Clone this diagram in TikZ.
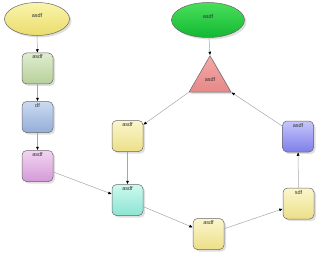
\documentclass[tikz,border=0pt]{standalone}
\usepackage{fontspec}
\setmainfont{Liberation Sans}
\usetikzlibrary{arrows.meta,shapes.geometric,shadows}
\definecolor{ylwA}{HTML}{FBF6CC}\definecolor{ylwB}{HTML}{ECDF88}
\definecolor{grnA}{HTML}{DFEDCF}\definecolor{grnB}{HTML}{B6D09A}
\definecolor{bluA}{HTML}{CBDAF0}\definecolor{bluB}{HTML}{94AED8}
\definecolor{pnkA}{HTML}{F2D4F2}\definecolor{pnkB}{HTML}{D49AD6}
\definecolor{cynA}{HTML}{CCF9EF}\definecolor{cynB}{HTML}{8CE4D2}
\definecolor{vioA}{HTML}{C6C6FB}\definecolor{vioB}{HTML}{7E7EEA}
\definecolor{redA}{HTML}{F6A8A8}\definecolor{redB}{HTML}{E68888}
\definecolor{ellA}{HTML}{FAF4AC}\definecolor{ellB}{HTML}{EADC6C}
\definecolor{egrA}{HTML}{4ADF5C}\definecolor{egrB}{HTML}{12B832}
\tikzset{
  shp/.style={draw=black!60,line width=0.5pt,shading angle=45,
    drop shadow={opacity=0.25,shadow xshift=2pt,shadow yshift=-2pt},
    text=black!80,font=\fontsize{5.5}{6.5}\selectfont},
  box/.style={shp,rounded corners=4.5pt,minimum width=31pt,minimum height=31pt,
    inner sep=1pt,text height=5pt,text depth=24pt,top color=#1A,bottom color=#1B},
  oval/.style={shp,ellipse,inner sep=0pt,text height=4.5pt,text depth=8pt,
    top color=#1A,bottom color=#1B},
  conn/.style={draw=black!35,line width=0.5pt,-{Latex[color=black,length=3.5pt,width=3pt]}}
}
\begin{document}
\begin{tikzpicture}[x=1pt,y=-1pt]
\useasboundingbox (0,0) rectangle (324,254);
% left column
\node[oval=ell,minimum width=65pt,minimum height=33pt] (e1) at (37,19) {asdf};
\node[box=grn] (g1) at (37.5,68.5) {asdf};
\node[box=blu] (b1) at (37.5,117) {df};
\node[box=pnk] (p1) at (37.5,166) {asdf};
% top right
\node[oval=egr,minimum width=73pt,minimum height=35pt] (e2) at (208,20) {asdf};
\node[shp,regular polygon,regular polygon sides=3,minimum size=48.5pt,inner sep=0pt,
  top color=redA,bottom color=redB,shading angle=0] (tri) at (210,80) {asdf};
% loop
\node[box=ylw] (y1) at (127.5,136) {asdf};
\node[box=cyn] (c1) at (127.5,200) {asdf};
\node[box=ylw] (y2) at (208.5,234) {asdf};
\node[box=ylw] (y3) at (298.5,203.5) {sdf};
\node[box=vio] (v1) at (298,136.5) {asdf};
\foreach \a/\b in {e1/g1,g1/b1,b1/p1,p1/c1,e2/tri.north,tri.corner 2/y1,y1/c1,c1/y2,y2/y3,y3/v1,v1/tri.corner 3}
  \draw[conn] (\a) -- (\b);
\end{tikzpicture}
\end{document}
